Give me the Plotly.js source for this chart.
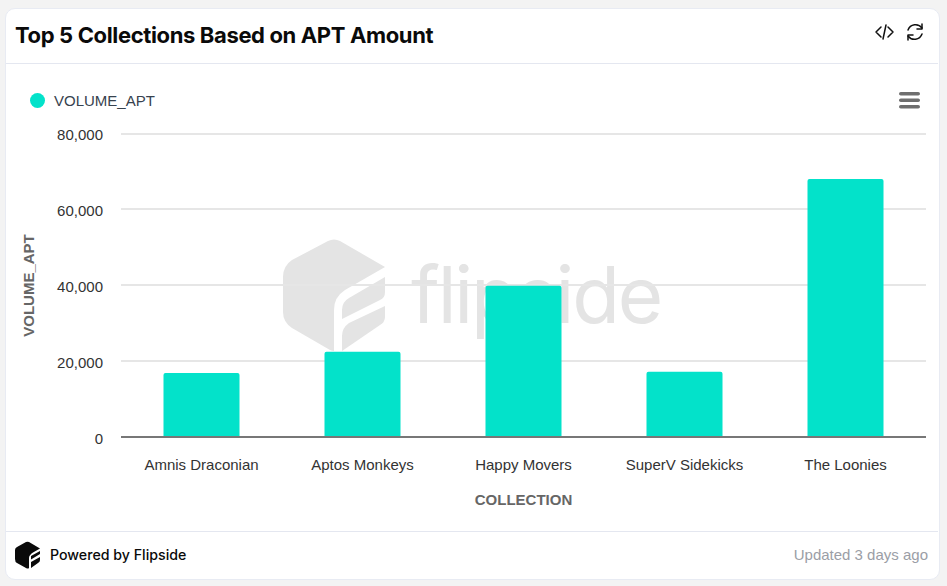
<!DOCTYPE html>
<html>
<head>
<meta charset="utf-8">
<script src="https://cdn.plot.ly/plotly-3.0.1.min.js"></script>
<style>
html,body{margin:0;padding:0;width:947px;height:586px;background:#f3f3f3;overflow:hidden;font-family:"Liberation Sans",Arial,sans-serif}
#card{position:absolute;left:5px;top:8px;width:933px;height:570px;background:#fff;border:1px solid #e8ebf3;border-radius:10px;box-sizing:content-box}
.hr{position:absolute;left:6px;width:932px;height:1px;background:#e4e7f0}
#title{position:absolute;left:15px;top:21px;font:700 22px/28px Inter,sans-serif;color:#0a0a0a;letter-spacing:-0.36px;white-space:nowrap}
#powered{position:absolute;left:50px;top:546px;font:500 14.2px/18px Inter,sans-serif;color:#0a0a0a;white-space:nowrap}
#updated{position:absolute;right:19px;top:546px;font:15px/18px "Liberation Sans",Arial,sans-serif;color:#9b9ea6;white-space:nowrap}
#legdot{position:absolute;left:30px;top:93px;width:15px;height:15px;border-radius:50%;background:#03e2ca}
#legtxt{position:absolute;left:54px;top:92px;font:15px/18px "Liberation Sans",Arial,sans-serif;color:#37424e;white-space:nowrap}
#wmtext{position:absolute;left:411px;top:245px;font:400 78px/100px Inter,sans-serif;color:#e4e4e4;letter-spacing:-2.2px;white-space:nowrap}
svg.abs{position:absolute;overflow:visible}
#chart{position:absolute;left:0;top:0;width:947px;height:586px}
</style>
</head>
<body>
<div id="card"></div>
<div class="hr" style="top:63px"></div>
<div class="hr" style="top:531px"></div>
<div id="title">Top 5 Collections Based on APT Amount</div>

<svg class="abs" style="left:0;top:0" width="947" height="586">
  <!-- watermark logo -->
  <path d="M328 241 Q334 238 340 241 L385 267 L345 290 Q334 297 334 310 L334 351 Q332 351 330 350 L292 328 Q283 322 283 312 L283 277 Q283 266 292 260 Z" fill="#e4e4e4"/>
  <path d="M342 351 L342 336 Q342 328 349 323 L385 306 L385 317 Q385 322 380 325 Z M342 319 L342 310 Q342 302 349 298 L385 277 L385 292 Q385 298 380 300 Z" fill="#e4e4e4"/>
  <!-- code icon -->
  <g fill="none" stroke="#111" stroke-width="1.5" stroke-linecap="round" stroke-linejoin="round">
    <path d="M881 27 L876 32 L881 37 M888 27 L893 32 L888 37 M886 25 L883 39"/>
    <path d="M908 30 A8 8 0 0 1 922 28 M922 34 A8 8 0 0 1 908 36"/>
    <path d="M922 24 L922 29 L917 29 M908 40 L908 35 L913 35"/>
  </g>
  <!-- menu icon -->
  <g fill="#6e6e6e">
    <rect x="899" y="92" width="21" height="3.6" rx="1.8"/>
    <rect x="899" y="98.5" width="21" height="3.6" rx="1.8"/>
    <rect x="899" y="105" width="21" height="3.6" rx="1.8"/>
  </g>
  <!-- footer logo -->
  <path d="M26 542 Q27.5 541.5 29 542 L40 548.5 L33 552.5 Q29 555 29 558 L29 568 Q28 569 26 568 L17 563 Q15 562 15 559 L15 550 Q15 548 17 547 Z" fill="#0a0a0a"/>
  <path d="M31 568 L31 562 L40 557 L40 560 Q40 562 38 563 Z M31 559.5 L31 556 L40 551 L40 554 Z" fill="#0a0a0a"/>
</svg>
<div id="wmtext">flipside</div>
<div id="chart"></div>
<div id="legdot"></div>
<div id="legtxt">VOLUME_APT</div>
<div id="powered">Powered by Flipside</div>
<div id="updated">Updated 3 days ago</div>

<script>
const categories = ["Amnis Draconian", "Aptos Monkeys", "Happy Movers", "SuperV Sidekicks", "The Loonies"];
const volumeApt = [16900, 22500, 39900, 17200, 68000];
const yTicks = [0, 20000, 40000, 60000, 80000];
const seriesName = "VOLUME_APT";
const xTitle = "COLLECTION";
const yTitle = "VOLUME_APT";

Plotly.newPlot("chart", [{
  type: "bar",
  name: seriesName,
  x: categories,
  y: volumeApt,
  marker: {color: "#03e2ca", cornerradius: 2, line: {width: 0}},
  hoverinfo: "x+y"
}], {
  width: 947,
  height: 586,
  paper_bgcolor: "rgba(0,0,0,0)",
  plot_bgcolor: "rgba(0,0,0,0)",
  margin: {l: 121, r: 21, t: 132, b: 147, pad: 0},
  bargap: 0.528,
  showlegend: false,
  font: {family: '"Liberation Sans", Arial, sans-serif', size: 15, color: "#333"},
  xaxis: {
    type: "category",
    title: {text: "<b>" + xTitle + "</b>", font: {size: 15, color: "#666"}, standoff: 22},
    tickfont: {size: 15, color: "#333"},
    ticklabelstandoff: 15,
    ticks: "",
    ticklen: 0,
    showgrid: false,
    showline: false,
    automargin: false
  },
  yaxis: {
    range: [-527, 80395],
    tickvals: yTicks,
    tickformat: ",d",
    title: {text: "<b>" + yTitle + "</b>", font: {size: 15, color: "#666"}, standoff: 18},
    tickfont: {size: 15, color: "#333"},
    ticklabelstandoff: 17,
    gridcolor: "#e6e6e6",
    gridwidth: 2,
    zeroline: true,
    zerolinelayer: "above traces",
    zerolinecolor: "#777777",
    zerolinewidth: 2,
    ticks: "",
    automargin: false
  }
}, {displayModeBar: false, staticPlot: true}).then(function () {
  document.querySelectorAll("#chart .ytick text").forEach(function (t) {
    t.setAttribute("transform", (t.getAttribute("transform") || "") + " translate(0,1.5)");
  });
});
</script>
</body>
</html>
